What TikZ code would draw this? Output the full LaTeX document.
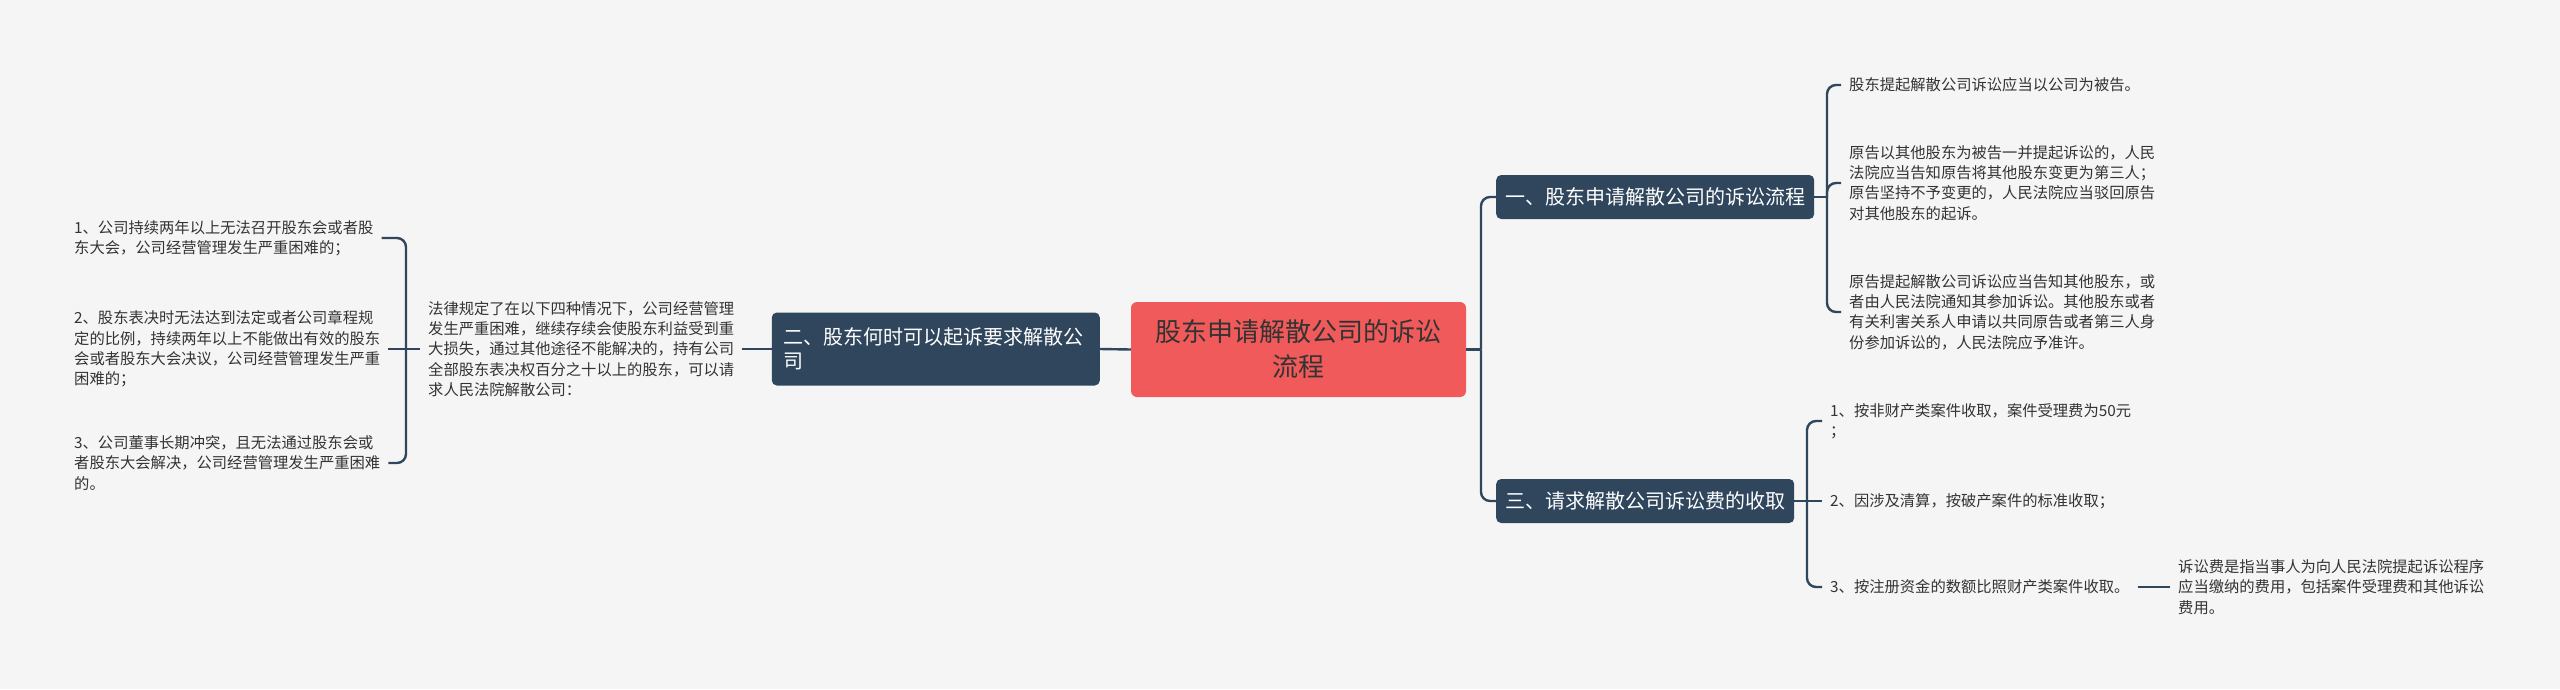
\documentclass[tikz,border=0pt]{standalone}
\usepackage{fontspec}
\setmainfont{Noto Sans CJK SC}
\definecolor{bg}{HTML}{F5F5F5}
\definecolor{dark}{HTML}{2F465D}
\definecolor{rootred}{HTML}{F05A5A}
\definecolor{txt}{HTML}{333333}
\tikzset{
  conn/.style={draw=dark, line width=2.4pt, rounded corners=9pt},
  leaf/.style={anchor=west, align=left, inner xsep=8pt, inner ysep=2pt, text=txt,
    font=\fontsize{15.3}{20.3}\selectfont},
  topic/.style={fill=dark, text=white, rounded corners=5pt, anchor=west, align=left,
    font=\fontsize{20}{24}\selectfont, inner xsep=9pt, minimum height=44pt},
  rootbox/.style={fill=rootred, text=txt, rounded corners=6pt, align=center,
    font=\fontsize{26}{35}\selectfont, minimum width=335pt, minimum height=95pt, inner sep=0pt}
}
\begin{document}
\begin{tikzpicture}[x=1pt,y=-1pt]
\fill[bg] (0,0) rectangle (2560,689);
\useasboundingbox (0,0) rectangle (2560,689);

% root
\node[rootbox] (root) at (1298.5,349.5) {股东申请解散公司的诉讼\\流程};

% left branch
\node[topic, anchor=east, text width=304pt, inner xsep=12pt, minimum height=73pt] (n2) at (1100,349) {二、股东何时可以起诉要求解散公\\司};
\node[leaf] (P) at (420,349) {法律规定了在以下四种情况下，公司经营管理\\发生严重困难，继续存续会使股东利益受到重\\大损失，通过其他途径不能解决的，持有公司\\全部股东表决权百分之十以上的股东，可以请\\求人民法院解散公司：};
\node[leaf] (L1) at (66,238) {1、公司持续两年以上无法召开股东会或者股\\东大会，公司经营管理发生严重困难的；};
\node[leaf] (L2) at (66,349) {2、股东表决时无法达到法定或者公司章程规\\定的比例，持续两年以上不能做出有效的股东\\会或者股东大会决议，公司经营管理发生严重\\困难的；};
\node[leaf] (L3) at (66,463) {3、公司董事长期冲突，且无法通过股东会或\\者股东大会解决，公司经营管理发生严重困难\\的。};
\coordinate (bl) at (406,349);

% right branch
\coordinate (rj) at (1481,349.5);
\node[topic] (n1) at (1496,197) {一、股东申请解散公司的诉讼流程};
\node[topic] (n3) at (1496,501) {三、请求解散公司诉讼费的收取};
\coordinate (b1) at (1827,197);
\coordinate (b3) at (1807,501);
\node[leaf] (a) at (1841,85) {股东提起解散公司诉讼应当以公司为被告。};
\node[leaf] (b) at (1841,183) {原告以其他股东为被告一并提起诉讼的，人民\\法院应当告知原告将其他股东变更为第三人；\\原告坚持不予变更的，人民法院应当驳回原告\\对其他股东的起诉。};
\node[leaf] (c) at (1841,312) {原告提起解散公司诉讼应当告知其他股东，或\\者由人民法院通知其参加诉讼。其他股东或者\\有关利害关系人申请以共同原告或者第三人身\\份参加诉讼的，人民法院应予准许。};
\node[leaf] (f1) at (1822,421) {1、按非财产类案件收取，案件受理费为50元\\；};
\node[leaf] (f2) at (1822,501) {2、因涉及清算，按破产案件的标准收取；};
\node[leaf] (f3) at (1822,587) {3、按注册资金的数额比照财产类案件收取。};
\node[leaf] (note) at (2170,587) {诉讼费是指当事人为向人民法院提起诉讼程序\\应当缴纳的费用，包括案件受理费和其他诉讼\\费用。};

% connectors
\draw[conn] (root.west) -- (n2.west -| n2.east);
\draw[conn] (n2.west) -- (P.east);
\draw[conn] (P.west) -- (bl);
\draw[conn] (bl) |- (L1.east);
\draw[conn] (bl) -- (L2.east);
\draw[conn] (bl) |- (L3.east);

\draw[conn] (root.east) -- (rj);
\draw[conn] (rj) |- (n1.west);
\draw[conn] (rj) |- (n3.west);
\draw[conn] (n1.east) -- (b1);
\draw[conn] (b1) |- (a.west);
\draw[conn] (b1) |- (b.west);
\draw[conn] (b1) |- (c.west);
\draw[conn] (n3.east) -- (b3);
\draw[conn] (b3) |- (f1.west);
\draw[conn] (b3) -- (f2.west);
\draw[conn] (b3) |- (f3.west);
\draw[conn] (f3.east) -- (note.west);
\end{tikzpicture}
\end{document}
